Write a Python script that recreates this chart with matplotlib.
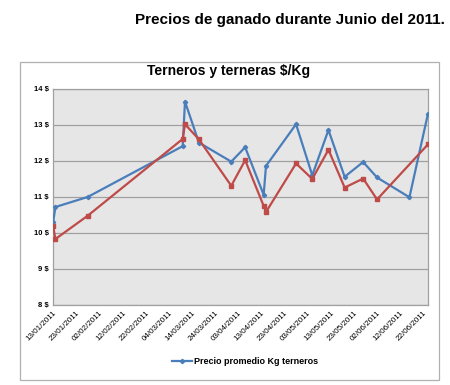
import matplotlib

matplotlib.use("Agg")
import matplotlib.dates as mdates
import matplotlib.pyplot as plt
import numpy as np
import pandas as pd
from matplotlib.patches import Rectangle

# fechas de las observaciones
fechas = pd.to_datetime([
    "2011-01-13", "2011-01-14", "2011-01-28", "2011-03-10", "2011-03-11",
    "2011-03-17", "2011-03-31", "2011-04-06", "2011-04-14", "2011-04-15",
    "2011-04-28", "2011-05-05", "2011-05-12", "2011-05-19", "2011-05-27",
    "2011-06-02", "2011-06-16", "2011-06-24",
])
terneros = [10.29, 10.72, 11.00, 12.41, 13.65, 12.51, 11.98, 12.38, 11.06, 11.86,
            13.02, 11.60, 12.86, 11.56, 11.97, 11.54, 10.99, 13.31]
terneras = [10.19, 9.83, 10.48, 12.61, 13.02, 12.60, 11.31, 12.02, 10.75, 10.58,
            11.93, 11.50, 12.31, 11.26, 11.51, 10.93, np.nan, 12.46]

y_ticks = [8, 9, 10, 11, 12, 13, 14]
x_ticks = pd.date_range("2011-01-13", periods=17, freq="10D")

BLUE = "#4a7ebb"
RED = "#be4b48"

plt.rcParams["font.family"] = ["Liberation Sans", "DejaVu Sans"]
fig = plt.figure(figsize=(4.5, 3.85), dpi=100)

# marco del grafico
fig.patches.append(Rectangle((0.044, 0.013), 0.931, 0.826, transform=fig.transFigure,
                             facecolor="white", edgecolor="#b0b0b0", lw=0.9, zorder=-5))

fig.text(0.644, 0.948, "Precios de ganado durante Junio del 2011.", ha="center",
         va="center", fontsize=11, fontweight="bold")
fig.text(0.508, 0.815, "Terneros y terneras $/Kg", ha="center", va="center",
         fontsize=10, fontweight="bold")

ax = fig.add_axes([0.118, 0.208, 0.833, 0.561], zorder=2)
ax.set_facecolor("#e6e6e6")

ax.plot(fechas, terneros, color=BLUE, lw=1.6, marker="D", ms=2.2,
        label="Precio promedio Kg terneros", zorder=3)
t2 = pd.Series(terneras, index=fechas).dropna()
ax.plot(t2.index, t2.values, color=RED, lw=1.6, marker="s", ms=2.5, zorder=3)

ax.set_ylim(8, 14)
ax.set_yticks(y_ticks)
ax.set_yticklabels([f"{v} $" for v in y_ticks], fontsize=5.5, fontweight="bold")
ax.set_xlim(fechas[0], fechas[-1])
ax.set_xticks(x_ticks)
ax.xaxis.set_major_formatter(mdates.DateFormatter("%d/%m/%Y"))
for lbl in ax.get_xticklabels():
    lbl.set_rotation(45)
    lbl.set_ha("right")
    lbl.set_rotation_mode("anchor")
    lbl.set_fontsize(5.8)
ax.tick_params(length=0, pad=3)
ax.grid(axis="y", color="#a0a0a0", lw=0.9)
ax.set_axisbelow(True)
for s in ax.spines.values():
    s.set_color("#a0a0a0")
    s.set_linewidth(0.9)

fig.legend(loc="center", bbox_to_anchor=(0.545, 0.06), frameon=False,
           prop={"size": 6.5, "weight": "bold"}, handlelength=2.2, handletextpad=0.3)

fig.savefig("out.png", dpi=100)
